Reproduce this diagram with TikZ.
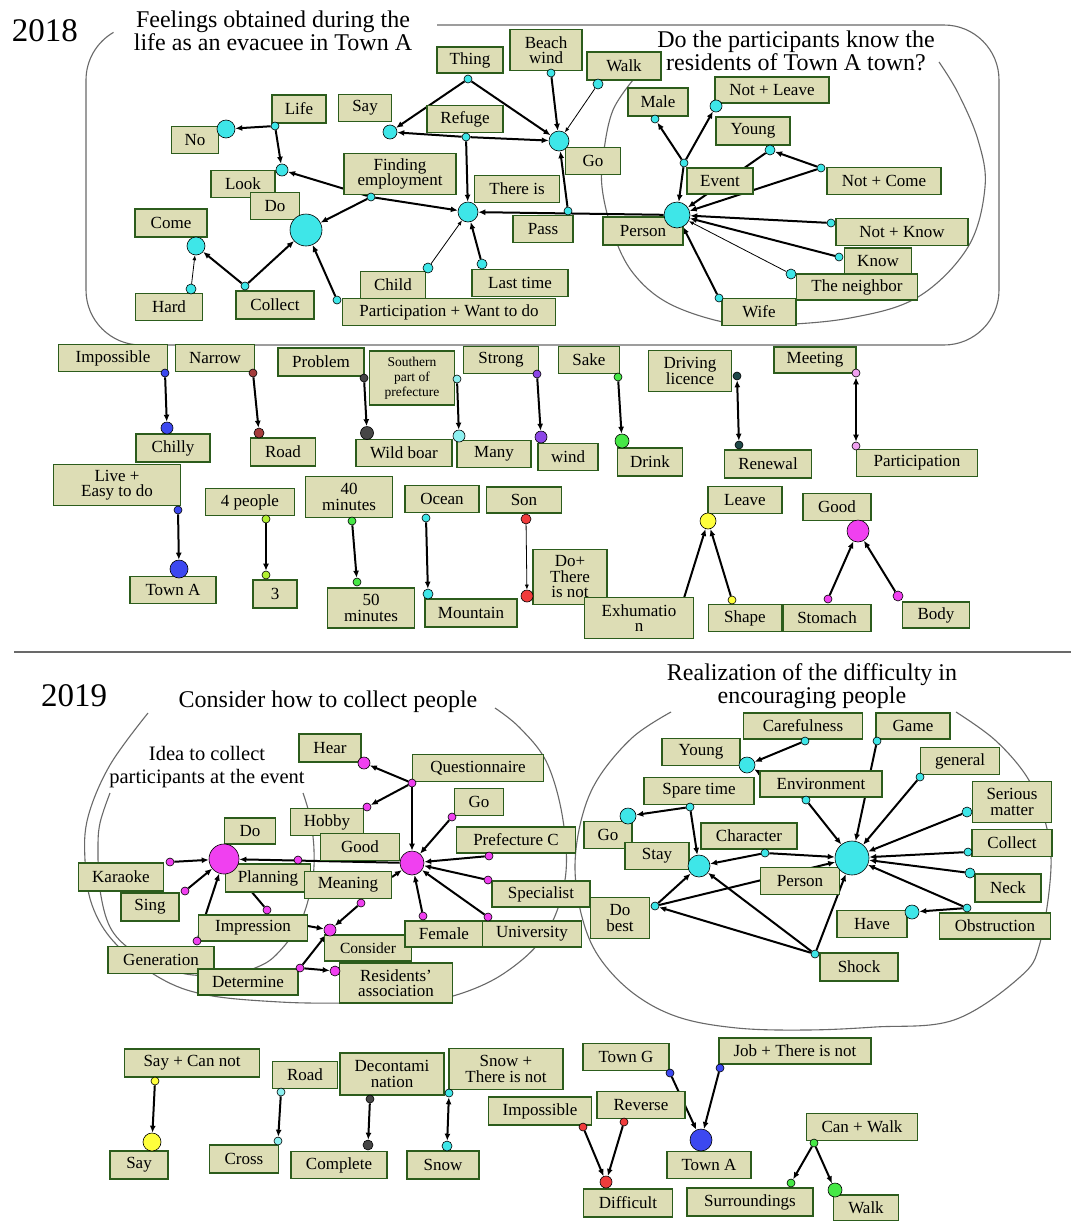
\documentclass[tikz,border=0pt]{standalone}
\usepackage{fontspec}
\setmainfont{Liberation Serif}
\usetikzlibrary{arrows.meta,backgrounds}

\definecolor{boxfill}{RGB}{221,221,181}
\definecolor{boxline}{RGB}{44,92,28}
\definecolor{framegray}{RGB}{105,105,105}
\definecolor{cyanC}{RGB}{62,230,232}
\definecolor{magC}{RGB}{240,64,240}
\definecolor{blueC}{RGB}{60,72,240}
\definecolor{brownC}{RGB}{165,60,60}
\definecolor{grayC}{RGB}{70,70,70}
\definecolor{lcyanC}{RGB}{140,240,240}
\definecolor{purpleC}{RGB}{140,70,230}
\definecolor{greenC}{RGB}{70,232,70}
\definecolor{tealC}{RGB}{30,72,72}
\definecolor{pinkC}{RGB}{240,160,240}
\definecolor{lgreenC}{RGB}{178,240,50}
\definecolor{redC}{RGB}{240,60,60}
\definecolor{yellowC}{RGB}{255,255,60}

\newcommand\boxfont{\fontsize{17}{15.5}\selectfont}
\newcommand\smallboxfont{\fontsize{13.5}{15}\selectfont}
\newcommand\titlefont{\fontsize{24}{23.5}\selectfont}
\newcommand\ideafont{\fontsize{20.5}{22.5}\selectfont}
\newcommand\yearfont{\fontsize{33}{33}\selectfont}

\begin{document}
\begin{tikzpicture}[x=1pt, y=-1pt,
  box/.style 2 args={draw=boxline, fill=boxfill, line width=1.8pt, inner sep=0pt,
    align=center, font=\boxfont, minimum width=#1, minimum height=#2},
  dot/.style 2 args={circle, draw=black, line width=0.6pt, fill=#1, inner sep=0pt, minimum size=#2},
  link/.style={-{Latex[length=7pt,width=6pt]}, line width=2pt},
  thinlink/.style={-{Latex[length=5pt,width=4pt]}, line width=0.8pt},
  twoway/.style={{Latex[length=7pt,width=6pt]}-{Latex[length=7pt,width=6pt]}, line width=2pt},
  frame/.style={draw=framegray, line width=1.1pt}]

\useasboundingbox (0,0) rectangle (1071,1221);

% =========================
% 2018 : TITLES
% =========================
\node[font=\yearfont] (y2018) at (45,31) {2018};
\node[font=\titlefont, align=center] (feel) at (273,31) {Feelings obtained during the\\life as an evacuee in Town A};
\node[font=\titlefont, align=center] (know) at (796,51) {Do the participants know the\\residents of Town A town?};

% =========================
% 2018 : EVACUEE NETWORK
% =========================
\node[box={66}{26}] (thing) at (470,60) {Thing};
\node[box={72}{41}] (beach) at (546,50) {Beach\\wind};
\node[box={74}{28}] (walk) at (624,66) {Walk};
\node[box={54}{28}] (life) at (299,109) {Life};
\node[box={53}{27}] (say) at (365,108) {Say};
\node[box={47}{27}] (no) at (195,140) {No};
\node[box={76}{27}] (refuge) at (465,119) {Refuge};
\node[box={112}{41}] (findemp) at (400,174) {Finding\\employment};
\node[box={64}{27}] (look) at (243,184) {Look};
\node[box={49}{27}] (do) at (275,206) {Do};
\node[box={72}{28}] (come) at (171,223) {Come};
\node[box={67}{27}] (hard) at (169,307) {Hard};
\node[box={78}{28}] (collect) at (275,305) {Collect};
\node[box={65}{27}] (child) at (393,285) {Child};
\node[box={96}{27}] (lasttime) at (520,283) {Last time};
\node[box={213}{27}] (partwant) at (449,312) {Participation + Want to do};
\node[box={85}{27}] (thereis) at (517,189) {There is};
\node[box={60}{27}] (pass) at (543,229) {Pass};
\node[box={55}{27}] (go) at (593,161) {Go};

% inner group
\node[box={60}{28}] (male) at (658,102) {Male};
\node[box={80}{28}] (person) at (643,231) {Person};
\node[box={114}{26}] (notleave) at (772,90) {Not + Leave};
\node[box={74}{28}] (young) at (753,131) {Young};
\node[box={66}{26}] (event) at (720,181) {Event};
\node[box={114}{27}] (notcome) at (884,181) {Not + Come};
\node[box={132}{27}] (notknow) at (902,232) {Not + Know};
\node[box={67}{26}] (knowbox) at (878,261) {Know};
\node[box={121}{26}] (neighbor) at (857,287) {The neighbor};
\node[box={74}{27}] (wife) at (759,312) {Wife};

% dots
\node[dot={cyanC}{32}] (bigC) at (306,230) {};
\node[dot={cyanC}{18}] (noC) at (226,129) {};
\node[dot={cyanC}{8}] (lifeD) at (275,126) {};
\node[dot={cyanC}{12}] (lookD) at (282,170) {};
\node[dot={cyanC}{18}] (comeC) at (196,246) {};
\node[dot={cyanC}{10}] (hardD) at (191,289) {};
\node[dot={cyanC}{8}] (collectD) at (245,286) {};
\node[dot={cyanC}{8}] (findD) at (371,197) {};
\node[dot={cyanC}{8}] (partD) at (337,300) {};
\node[dot={cyanC}{14}] (sayC) at (390,132) {};
\node[dot={cyanC}{8}] (thingD) at (468,79) {};
\node[dot={cyanC}{8}] (refugeD) at (466,137) {};
\node[dot={cyanC}{20}] (hubC) at (468,212) {};
\node[dot={cyanC}{20}] (goC) at (559,141) {};
\node[dot={cyanC}{8}] (beachD) at (551,73) {};
\node[dot={cyanC}{10}] (walkD) at (598,84) {};
\node[dot={cyanC}{10}] (childD) at (428,268) {};
\node[dot={cyanC}{10}] (lastD) at (482,264) {};
\node[dot={cyanC}{8}] (passD) at (568,211) {};
\node[dot={cyanC}{26}] (personC) at (677,215) {};
\node[dot={cyanC}{8}] (maleD) at (655,119) {};
\node[dot={cyanC}{8}] (eventD) at (684,163) {};
\node[dot={cyanC}{12}] (leaveD) at (716,106) {};
\node[dot={cyanC}{10}] (youngD) at (770,150) {};
\node[dot={cyanC}{8}] (comeD) at (821,168) {};
\node[dot={cyanC}{8}] (notknowD) at (831,223) {};
\node[dot={cyanC}{8}] (knowD) at (839,257) {};
\node[dot={cyanC}{10}] (neighD) at (791,274) {};
\node[dot={cyanC}{8}] (wifeD) at (719,298) {};

% =========================
% 2018 : WORD PAIRS
% =========================
\node[box={109}{27}] (imposs) at (113,358) {Impossible};
\node[box={79}{27}] (narrow) at (215,358) {Narrow};
\node[box={86}{28}] (problem) at (321,362) {Problem};
\node[box={85}{54}, font=\smallboxfont] (southern) at (412,378) {Southern\\part of\\prefecture};
\node[box={75}{27}] (strong) at (501,360) {Strong};
\node[box={61}{27}] (sake) at (589,360) {Sake};
\node[box={83}{41}] (driving) at (690,371) {Driving\\licence};
\node[box={82}{26}] (meeting) at (815,360) {Meeting};
\node[box={74}{28}] (chilly) at (173,448) {Chilly};
\node[box={65}{28}] (road) at (283,452) {Road};
\node[box={96}{27}] (wildboar) at (404,453) {Wild boar};
\node[box={74}{27}] (many) at (494,454) {Many};
\node[box={60}{27}] (wind) at (568,457) {wind};
\node[box={65}{28}] (drink) at (650,462) {Drink};
\node[box={87}{28}] (renewal) at (768,464) {Renewal};
\node[box={121}{27}] (particip) at (917,463) {Participation};
\node[box={127}{41}] (liveeasy) at (117,485) {Live +\\Easy to do};
\node[box={89}{27}] (fourpp) at (250,502) {4 people};
\node[box={87}{41}] (forty) at (349,497) {40\\minutes};
\node[box={74}{27}] (ocean) at (442,499) {Ocean};
\node[box={75}{26}] (son) at (524,500) {Son};
\node[box={74}{27}] (leave) at (745,500) {Leave};
\node[box={68}{27}] (good) at (837,507) {Good};
\node[box={86}{27}] (towna) at (173,590) {Town A};
\node[box={44}{28}] (three) at (275,594) {3};
\node[box={87}{40}] (fifty) at (371,608) {50\\minutes};
\node[box={92}{28}] (mountain) at (471,613) {Mountain};
\node[box={74}{55}] (dothere) at (570,577) {Do+\\There\\is not};
\node[box={109}{41}] (exhum) at (639,618) {Exhumatio\\n};
\node[box={73}{27}] (shape) at (745,618) {Shape};
\node[box={88}{27}] (stomach) at (827,618) {Stomach};
\node[box={67}{26}] (body) at (936,615) {Body};

\node[dot={blueC}{8}] (impD) at (165,373) {};
\node[dot={blueC}{12}] (chillyC) at (167,428) {};
\node[dot={brownC}{8}] (narD) at (253,373) {};
\node[dot={brownC}{10}] (roadD) at (259,433) {};
\node[dot={grayC}{8}] (probD) at (364,378) {};
\node[dot={grayC}{13}] (boarC) at (367,433) {};
\node[dot={lcyanC}{8}] (southD) at (457,379) {};
\node[dot={lcyanC}{12}] (manyC) at (459,436) {};
\node[dot={purpleC}{8}] (strongD) at (537,374) {};
\node[dot={purpleC}{12}] (windC) at (541,437) {};
\node[dot={greenC}{8}] (sakeD) at (618,377) {};
\node[dot={greenC}{14}] (drinkC) at (622,441) {};
\node[dot={tealC}{8}] (drivD) at (737,376) {};
\node[dot={tealC}{8}] (renewD) at (739,445) {};
\node[dot={pinkC}{8}] (meetD) at (856,373) {};
\node[dot={pinkC}{8}] (partiD) at (856,446) {};
\node[dot={blueC}{8}] (liveD) at (178,510) {};
\node[dot={blueC}{18}] (townC) at (179,569) {};
\node[dot={lgreenC}{8}] (fourD) at (266,519) {};
\node[dot={lgreenC}{8}] (threeD) at (266,575) {};
\node[dot={greenC}{8}] (fortyD) at (352,521) {};
\node[dot={greenC}{8}] (fiftyD) at (357,582) {};
\node[dot={cyanC}{8}] (oceanD) at (426,518) {};
\node[dot={cyanC}{10}] (mountD) at (428,594) {};
\node[dot={redC}{10}] (sonD) at (526,519) {};
\node[dot={redC}{12}] (dothereD) at (527,596) {};
\node[dot={yellowC}{16}] (leaveC) at (708,521) {};
\node[dot={yellowC}{8}] (shapeD) at (732,600) {};
\node[dot={magC}{22}] (goodC) at (858,531) {};
\node[dot={magC}{8}] (stomD) at (828,599) {};
\node[dot={magC}{10}] (bodyD) at (898,596) {};
\coordinate (exhumT) at (684,598);

% =========================
% 2019 : TITLES
% =========================
\node[font=\yearfont] (y2019) at (74,696) {2019};
\node[font=\titlefont] (howto) at (328,702) {Consider how to collect people};
\node[font=\titlefont, align=center] (realize) at (812,686) {Realization of the difficulty in\\encouraging people};
\node[font=\ideafont, align=center] (idea) at (207,767) {Idea to collect\\participants at the event};

% =========================
% 2019 : COLLECTING PEOPLE
% =========================
\node[box={62}{28}] (hear) at (330,748) {Hear};
\node[box={131}{27}] (quest) at (478,768) {Questionnaire};
\node[box={49}{27}] (bgo) at (479,802) {Go};
\node[box={73}{27}] (hobby) at (327,822) {Hobby};
\node[box={79}{27}] (bgood) at (360,847) {Good};
\node[box={119}{26}] (prefc) at (516,840) {Prefecture C};
\node[box={51}{26}] (bdo) at (250,831) {Do};
\node[box={85}{28}] (planning) at (268,878) {Planning};
\node[box={87}{27}] (meaning) at (348,885) {Meaning};
\node[box={98}{26}] (special) at (541,894) {Specialist};
\node[box={87}{26}, font=\fontsize{15.5}{14}\selectfont] (consider) at (368,948) {Consider};
\node[box={78}{26}] (female) at (444,934) {Female};
\node[box={99}{26}] (univ) at (532,934) {University};
\node[box={113}{40}] (resid) at (396,983) {Residents'\\association};
\node[box={85}{28}] (karaoke) at (121,877) {Karaoke};
\node[box={58}{28}] (sing) at (150,907) {Sing};
\node[box={109}{26}] (impress) at (253,928) {Impression};
\node[box={106}{27}] (generat) at (161,960) {Generation};
\node[box={100}{26}] (determ) at (248,982) {Determine};

\node[dot={magC}{30}] (doC) at (224,859) {};
\node[dot={magC}{24}] (mhub) at (412,863) {};
\node[dot={magC}{12}] (hearC) at (364,763) {};
\node[dot={magC}{8}] (questD) at (412,783) {};
\node[dot={magC}{8}] (hobbyD) at (367,807) {};
\node[dot={magC}{8}] (bgoD) at (452,817) {};
\node[dot={magC}{8}] (prefD) at (489,856) {};
\node[dot={magC}{8}] (goodD) at (298,860) {};
\node[dot={magC}{8}] (meanD) at (361,903) {};
\node[dot={magC}{8}] (femaleD) at (423,916) {};
\node[dot={magC}{8}] (univD) at (488,917) {};
\node[dot={magC}{8}] (specD) at (488,880) {};
\node[dot={magC}{12}] (considerC) at (330,930) {};
\node[dot={magC}{8}] (determD) at (300,968) {};
\node[dot={magC}{10}] (residD) at (335,971) {};
\node[dot={magC}{8}] (planD) at (267,910) {};
\node[dot={magC}{8}] (karaD) at (170,862) {};
\node[dot={magC}{8}] (singD) at (185,891) {};
\node[dot={magC}{8}] (genD) at (197,941) {};
\coordinate (meanR) at (392,877);
\coordinate (imprR) at (308,926);

% =========================
% 2019 : DIFFICULTY
% =========================
\node[box={119}{26}] (careful) at (803,726) {Carefulness};
\node[box={74}{26}] (game) at (913,726) {Game};
\node[box={78}{27}] (byoung) at (701,752) {Young};
\node[box={79}{27}] (general) at (960,761) {general};
\node[box={122}{26}] (environ) at (821,784) {Environment};
\node[box={110}{27}] (spare) at (699,791) {Spare time};
\node[box={79}{41}] (serious) at (1012,802) {Serious\\matter};
\node[box={48}{27}] (bgo2) at (608,835) {Go};
\node[box={96}{26}] (charact) at (749,836) {Character};
\node[box={64}{27}] (stay) at (657,856) {Stay};
\node[box={80}{27}] (bcollect) at (1012,843) {Collect};
\node[box={79}{27}] (bperson) at (800,881) {Person};
\node[box={66}{28}] (neck) at (1008,888) {Neck};
\node[box={59}{41}] (dobest) at (620,918) {Do\\best};
\node[box={70}{27}] (have) at (872,924) {Have};
\node[box={111}{26}] (obstr) at (995,926) {Obstruction};
\node[box={78}{28}] (shock) at (859,967) {Shock};

\node[dot={cyanC}{34}] (chub) at (852,858) {};
\node[dot={cyanC}{22}] (stayC) at (699,866) {};
\node[dot={cyanC}{16}] (byoungC) at (747,765) {};
\node[dot={cyanC}{8}] (carefD) at (805,741) {};
\node[dot={cyanC}{8}] (envD) at (806,800) {};
\node[dot={cyanC}{8}] (gameD) at (877,741) {};
\node[dot={cyanC}{8}] (genlD) at (920,777) {};
\node[dot={cyanC}{10}] (serD) at (967,812) {};
\node[dot={cyanC}{8}] (bcolD) at (968,852) {};
\node[dot={cyanC}{10}] (neckD) at (970,873) {};
\node[dot={cyanC}{8}] (obsD) at (967,908) {};
\node[dot={cyanC}{14}] (haveC) at (912,912) {};
\node[dot={cyanC}{8}] (spareD) at (690,807) {};
\node[dot={cyanC}{16}] (bgoC) at (628,816) {};
\node[dot={cyanC}{8}] (charD) at (765,853) {};
\node[dot={cyanC}{8}] (dobestD) at (655,906) {};
\node[dot={cyanC}{8}] (shockD) at (815,954) {};

% =========================
% 2019 : WORD PAIRS
% =========================
\node[box={135}{28}] (saycan) at (192,1063) {Say + Can not};
\node[box={58}{28}] (bsay) at (139,1165) {Say};
\node[box={65}{27}] (broad) at (305,1075) {Road};
\node[box={69}{28}] (cross) at (244,1159) {Cross};
\node[box={104}{42}] (decon) at (392,1074) {Decontami\\nation};
\node[box={96}{27}] (complete) at (339,1165) {Complete};
\node[box={114}{41}] (snowt) at (506,1069) {Snow +\\There is not};
\node[box={72}{28}] (snow) at (443,1165) {Snow};
\node[box={103}{28}] (bimposs) at (540,1111) {Impossible};
\node[box={86}{27}] (towng) at (626,1057) {Town G};
\node[box={152}{26}] (jobnot) at (795,1051) {Job + There is not};
\node[box={88}{27}] (reverse) at (641,1105) {Reverse};
\node[box={84}{27}] (btowna) at (709,1165) {Town A};
\node[box={111}{27}] (canwalk) at (862,1127) {Can + Walk};
\node[box={89}{28}] (difficult) at (628,1203) {Difficult};
\node[box={126}{28}] (surround) at (750,1202) {Surroundings};
\node[box={65}{26}] (bwalk) at (866,1208) {Walk};

\node[dot={yellowC}{8}] (saycD) at (155,1081) {};
\node[dot={yellowC}{18}] (bsayC) at (152,1142) {};
\node[dot={lcyanC}{8}] (broadD) at (281,1092) {};
\node[dot={lcyanC}{8}] (crossD) at (278,1141) {};
\node[dot={grayC}{8}] (deconD) at (370,1099) {};
\node[dot={grayC}{10}] (compD) at (368,1145) {};
\node[dot={cyanC}{8}] (snowtD) at (449,1093) {};
\node[dot={cyanC}{10}] (snowD) at (447,1146) {};
\node[dot={redC}{8}] (bimpD) at (583,1127) {};
\node[dot={redC}{8}] (revD) at (624,1122) {};
\node[dot={redC}{12}] (diffC) at (606,1182) {};
\node[dot={blueC}{8}] (towngD) at (670,1073) {};
\node[dot={blueC}{8}] (jobD) at (720,1068) {};
\node[dot={blueC}{22}] (btownC) at (701,1140) {};
\node[dot={greenC}{8}] (canD) at (814,1143) {};
\node[dot={greenC}{8}] (surD) at (791,1183) {};
\node[dot={greenC}{14}] (bwalkC) at (835,1190) {};

% =========================
% FRAMES AND CONNECTORS
% =========================
\begin{scope}[on background layer]
\fill[white] (0,0) rectangle (1071,1221);

% frames
\draw[frame] (437,25) -- (944,25) arc[start angle=90, end angle=0, radius=55pt]
  -- (999,290) arc[start angle=0, end angle=-90, radius=55pt]
  -- (141,345) arc[start angle=270, end angle=180, radius=55pt]
  -- (86,80) arc[start angle=180, end angle=120, radius=55pt];
\draw[frame] plot[smooth, tension=0.6] coordinates {(633,80) (613,110) (604,150) (602,187) (613,233)
  (633,273) (668,303) (723,322) (771,325) (850,318) (918,297) (968,247) (985,187) (978,140) (958,93) (939,62)};
\draw[frame, line width=1.3pt] (14,652) -- (1071,652);
\draw[frame] plot[smooth, tension=0.6] coordinates {(148,713) (110,765) (88,817) (85,860) (92,905)
  (115,943) (160,978) (207,995) (280,1002) (345,1003) (410,1001) (453,996) (503,974) (545,935)
  (565,880) (563,820) (547,763) (520,728) (495,708)};
\draw[frame] plot[smooth, tension=0.6] coordinates {(110,793) (100,823) (98,850) (100,890) (110,927)
  (131,950) (162,967) (193,975) (230,974) (255,968) (276,955) (300,923) (312,883) (314,850) (310,817) (303,793)};
\draw[frame] plot[smooth, tension=0.6] coordinates {(671,712) (633,737) (599,777) (582,817) (575,867)
  (582,917) (599,957) (633,993) (678,1017) (737,1028) (806,1030) (875,1027) (954,1020) (1020,977)
  (1040,943) (1051,867) (1044,817) (1027,777) (995,740) (956,712)};

% 2018 network
\draw[link] (lifeD) -- (noC);
\draw[link] (lifeD) -- (lookD);
\draw[link] (findD) -- (lookD);
\draw[link] (findD) -- (bigC);
\draw[link] (findD) -- (hubC);
\draw[link] (collectD) -- (bigC);
\draw[link] (collectD) -- (comeC);
\draw[thinlink] (hardD) -- (comeC);
\draw[link] (partD) -- (bigC);
\draw[link] (thingD) -- (sayC);
\draw[link] (thingD) -- (goC);
\draw[link] (refugeD) -- (sayC);
\draw[link] (refugeD) -- (goC);
\draw[link] (refugeD) -- (hubC);
\draw[link] (beachD) -- (goC);
\draw[thinlink] (walkD) -- (goC);
\draw[link] (passD) -- (goC);
\draw[link] (personC) -- (hubC);
\draw[thinlink] (childD) -- (hubC);
\draw[link] (lastD) -- (hubC);
\draw[link] (eventD) -- (maleD);
\draw[link] (eventD) -- (leaveD);
\draw[link] (eventD) -- (personC);
\draw[link] (comeD) -- (youngD);
\draw[link] (comeD) -- (personC);
\draw[link] (youngD) -- (personC);
\draw[link] (notknowD) -- (personC);
\draw[link] (knowD) -- (personC);
\draw[thinlink] (neighD) -- (personC);
\draw[link] (wifeD) -- (personC);

% 2018 pairs
\draw[link] (impD) -- (chillyC);
\draw[link] (narD) -- (roadD);
\draw[link] (probD) -- (boarC);
\draw[link] (southD) -- (manyC);
\draw[link] (strongD) -- (windC);
\draw[link] (sakeD) -- (drinkC);
\draw[twoway] (drivD) -- (renewD);
\draw[twoway] (meetD) -- (partiD);
\draw[link] (liveD) -- (townC);
\draw[link] (fourD) -- (threeD);
\draw[link] (fortyD) -- (fiftyD);
\draw[link] (oceanD) -- (mountD);
\draw[thinlink] (sonD) -- (dothereD);
\draw[link] (exhumT) -- (leaveC);
\draw[link] (shapeD) -- (leaveC);
\draw[link] (stomD) -- (goodC);
\draw[link] (bodyD) -- (goodC);

% 2019 collecting people
\draw[link] (questD) -- (hearC);
\draw[link] (questD) -- (hobbyD);
\draw[link] (questD) -- (mhub);
\draw[link] (bgoD) -- (mhub);
\draw[link] (prefD) -- (mhub);
\draw[link] (specD) -- (mhub);
\draw[link] (univD) -- (mhub);
\draw[link] (femaleD) -- (mhub);
\draw[link] (meanR) -- (mhub);
\draw[link] (mhub) -- (doC);
\draw[link] (meanD) -- (considerC);
\draw[link] (determD) -- (considerC);
\draw[link] (determD) -- (residD);
\draw[link] (imprR) -- (considerC);
\draw[link] (planD) -- (doC);
\draw[link] (karaD) -- (doC);
\draw[link] (singD) -- (doC);
\draw[link] (genD) -- (doC);

% 2019 difficulty
\draw[link] (carefD) -- (byoungC);
\draw[link] (envD) -- (byoungC);
\draw[link] (envD) -- (chub);
\draw[link] (gameD) -- (chub);
\draw[link] (genlD) -- (chub);
\draw[link] (serD) -- (chub);
\draw[link] (bcolD) -- (chub);
\draw[link] (neckD) -- (chub);
\draw[link] (obsD) -- (chub);
\draw[link] (obsD) -- (haveC);
\draw[link] (spareD) -- (bgoC);
\draw[link] (spareD) -- (stayC);
\draw[link] (charD) -- (stayC);
\draw[link] (charD) -- (chub);
\draw[link] (dobestD) -- (stayC);
\draw[link] (dobestD) -- (chub);
\draw[link] (shockD) -- (dobestD);
\draw[link] (shockD) -- (stayC);
\draw[link] (shockD) -- (chub);

% 2019 pairs
\draw[link] (saycD) -- (bsayC);
\draw[link] (broadD) -- (crossD);
\draw[link] (deconD) -- (compD);
\draw[twoway] (snowtD) -- (snowD);
\draw[link] (bimpD) -- (diffC);
\draw[link] (revD) -- (diffC);
\draw[link] (towngD) -- (btownC);
\draw[link] (jobD) -- (btownC);
\draw[link] (canD) -- (surD);
\draw[link] (canD) -- (bwalkC);
\end{scope}

\end{tikzpicture}
\end{document}
